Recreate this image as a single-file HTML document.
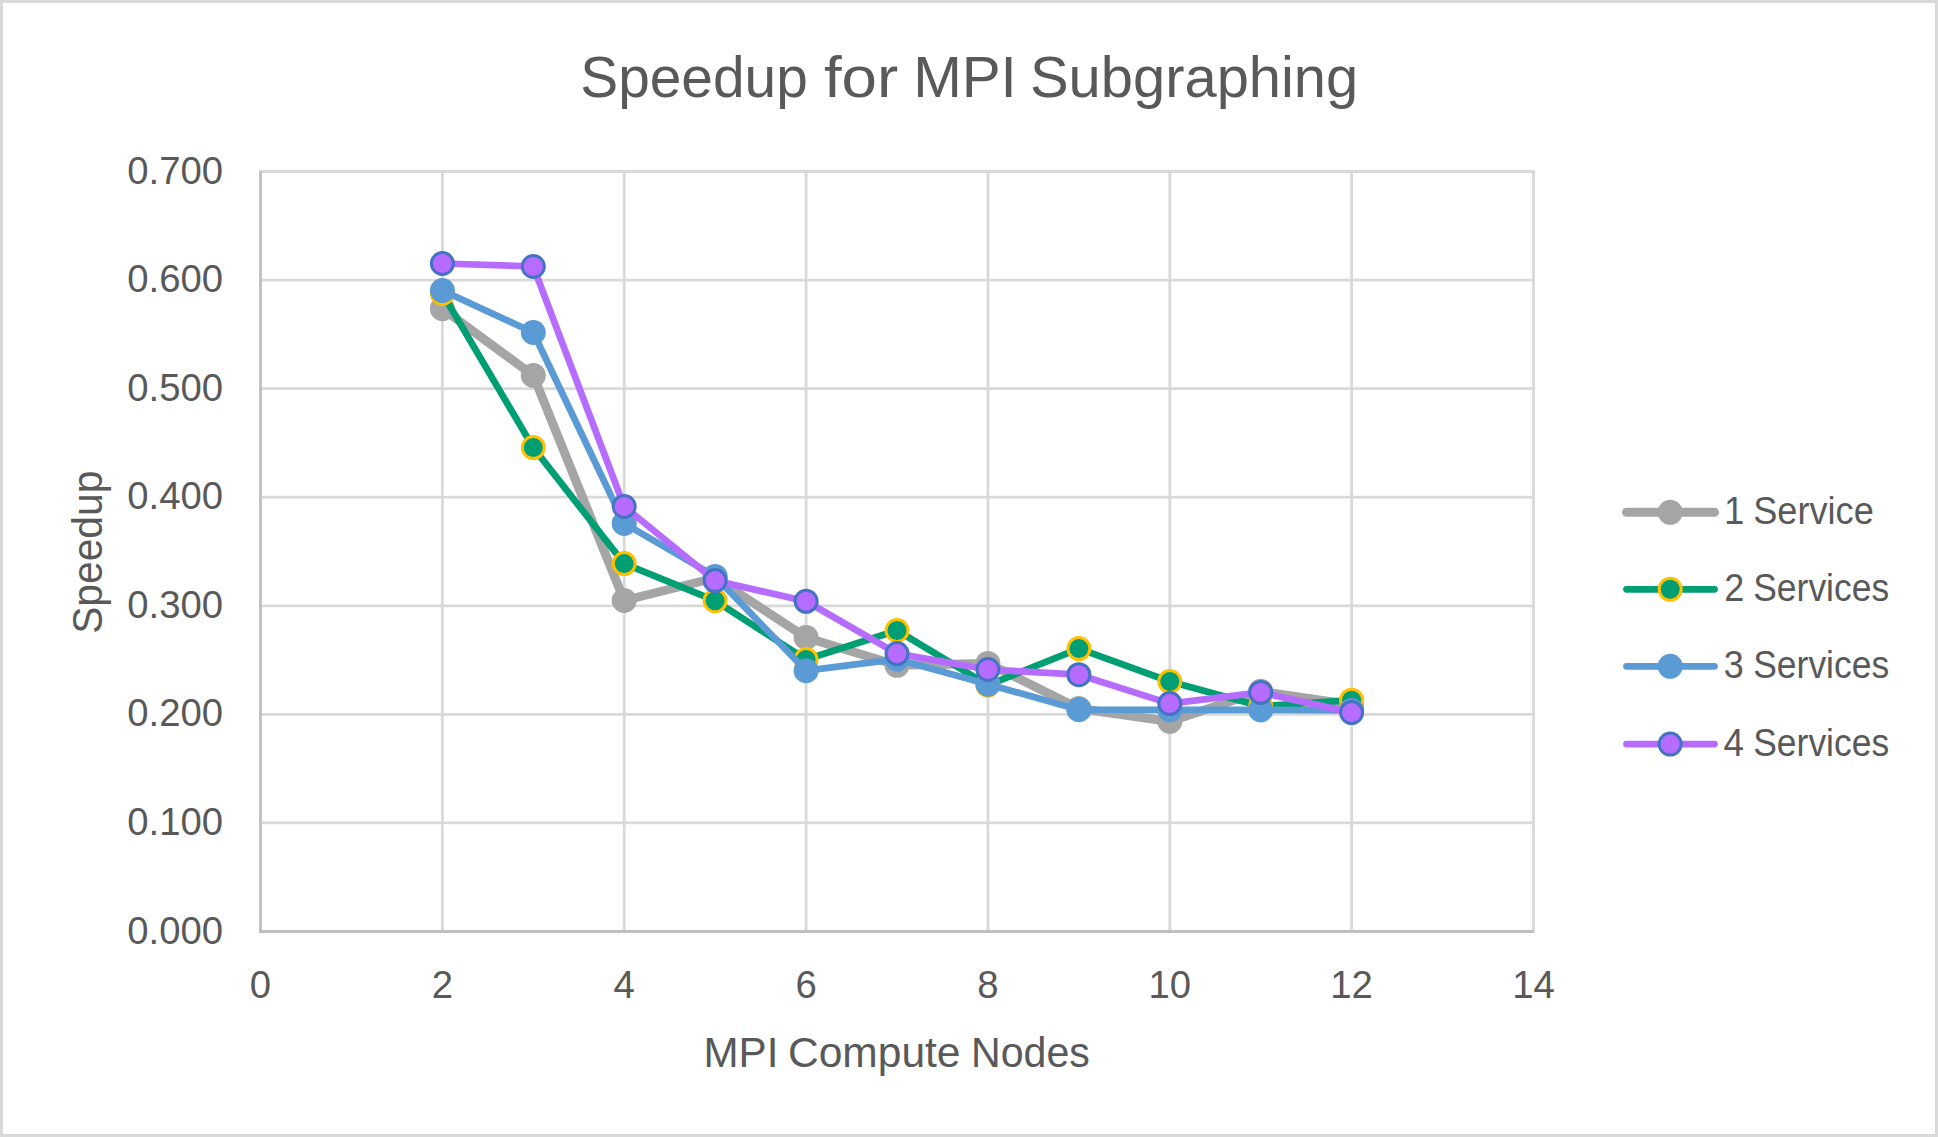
<!DOCTYPE html>
<html lang="en"><head><meta charset="utf-8"><title>Speedup for MPI Subgraphing</title>
<style>
html,body{margin:0;padding:0;background:#fff;}
body{width:1938px;height:1137px;overflow:hidden;font-family:"Liberation Sans",sans-serif;}
svg{display:block;}
</style></head><body>
<svg width="1938" height="1137" viewBox="0 0 1938 1137">
<rect x="0" y="0" width="1938" height="1137" fill="#D9D9D9"/>
<rect x="3" y="3" width="1932" height="1131" fill="#FFFFFF"/>
<path d="M259.1 171.50H1534.9 M259.1 280.07H1534.9 M259.1 388.64H1534.9 M259.1 497.21H1534.9 M259.1 605.79H1534.9 M259.1 714.36H1534.9 M259.1 822.93H1534.9 M442.36 170.1V932.9 M624.21 170.1V932.9 M806.07 170.1V932.9 M987.93 170.1V932.9 M1169.79 170.1V932.9 M1351.64 170.1V932.9 M1533.50 170.1V932.9" stroke="#D9D9D9" stroke-width="2.8" fill="none"/>
<path d="M260.5 171.5V932.9 M259.1 931.5H1533.5" stroke="#BFBFBF" stroke-width="2.8" fill="none"/>
<polyline points="442.4,308.7 533.3,375.4 624.2,600.5 715.1,578.0 806.1,637.5 897.0,665.3 987.9,663.4 1078.9,708.5 1169.8,721.5 1260.7,691.3 1351.6,704.8" fill="none" stroke="#A5A5A5" stroke-width="9" stroke-linejoin="round" stroke-linecap="round"/>
<g fill="#A5A5A5" stroke="#A5A5A5" stroke-width="3">
<circle cx="442.4" cy="308.7" r="11"/>
<circle cx="533.3" cy="375.4" r="11"/>
<circle cx="624.2" cy="600.5" r="11"/>
<circle cx="715.1" cy="578.0" r="11"/>
<circle cx="806.1" cy="637.5" r="11"/>
<circle cx="897.0" cy="665.3" r="11"/>
<circle cx="987.9" cy="663.4" r="11"/>
<circle cx="1078.9" cy="708.5" r="11"/>
<circle cx="1169.8" cy="721.5" r="11"/>
<circle cx="1260.7" cy="691.3" r="11"/>
<circle cx="1351.6" cy="704.8" r="11"/>
</g>
<polyline points="442.4,293.5 533.3,447.6 624.2,563.6 715.1,600.7 806.1,659.5 897.0,630.5 987.9,685.2 1078.9,648.6 1169.8,681.5 1260.7,706.2 1351.6,700.2" fill="none" stroke="#009E73" stroke-width="6.75" stroke-linejoin="round" stroke-linecap="round"/>
<g fill="#009E73" stroke="#FFC000" stroke-width="3">
<circle cx="442.4" cy="293.5" r="11"/>
<circle cx="533.3" cy="447.6" r="11"/>
<circle cx="624.2" cy="563.6" r="11"/>
<circle cx="715.1" cy="600.7" r="11"/>
<circle cx="806.1" cy="659.5" r="11"/>
<circle cx="897.0" cy="630.5" r="11"/>
<circle cx="987.9" cy="685.2" r="11"/>
<circle cx="1078.9" cy="648.6" r="11"/>
<circle cx="1169.8" cy="681.5" r="11"/>
<circle cx="1260.7" cy="706.2" r="11"/>
<circle cx="1351.6" cy="700.2" r="11"/>
</g>
<polyline points="442.4,290.5 533.3,332.5 624.2,523.4 715.1,576.4 806.1,670.7 897.0,659.2 987.9,684.2 1078.9,709.7 1169.8,709.9 1260.7,709.9 1351.6,710.5" fill="none" stroke="#5B9BD5" stroke-width="6.75" stroke-linejoin="round" stroke-linecap="round"/>
<g fill="#5B9BD5" stroke="#5B9BD5" stroke-width="3">
<circle cx="442.4" cy="290.5" r="11"/>
<circle cx="533.3" cy="332.5" r="11"/>
<circle cx="624.2" cy="523.4" r="11"/>
<circle cx="715.1" cy="576.4" r="11"/>
<circle cx="806.1" cy="670.7" r="11"/>
<circle cx="897.0" cy="659.2" r="11"/>
<circle cx="987.9" cy="684.2" r="11"/>
<circle cx="1078.9" cy="709.7" r="11"/>
<circle cx="1169.8" cy="709.9" r="11"/>
<circle cx="1260.7" cy="709.9" r="11"/>
<circle cx="1351.6" cy="710.5" r="11"/>
</g>
<polyline points="442.4,263.5 533.3,266.5 624.2,506.5 715.1,580.6 806.1,601.3 897.0,653.6 987.9,669.5 1078.9,674.7 1169.8,703.6 1260.7,692.4 1351.6,712.6" fill="none" stroke="#B66DFF" stroke-width="6.75" stroke-linejoin="round" stroke-linecap="round"/>
<g fill="#B66DFF" stroke="#4472C4" stroke-width="3">
<circle cx="442.4" cy="263.5" r="11"/>
<circle cx="533.3" cy="266.5" r="11"/>
<circle cx="624.2" cy="506.5" r="11"/>
<circle cx="715.1" cy="580.6" r="11"/>
<circle cx="806.1" cy="601.3" r="11"/>
<circle cx="897.0" cy="653.6" r="11"/>
<circle cx="987.9" cy="669.5" r="11"/>
<circle cx="1078.9" cy="674.7" r="11"/>
<circle cx="1169.8" cy="703.6" r="11"/>
<circle cx="1260.7" cy="692.4" r="11"/>
<circle cx="1351.6" cy="712.6" r="11"/>
</g>
<line x1="1626.5" y1="512.3" x2="1714.5" y2="512.3" stroke="#A5A5A5" stroke-width="9" stroke-linecap="round"/>
<circle cx="1670.2" cy="512.3" r="11" fill="#A5A5A5" stroke="#A5A5A5" stroke-width="3"/>
<g font-family="Liberation Sans, sans-serif" font-size="38.3" fill="#595959" xml:space="preserve">
<text y="524.0" font-size="38.3"><tspan x="1723.96" textLength="20.31" lengthAdjust="spacingAndGlyphs">1</tspan> <tspan x="1753.17" textLength="120.64" lengthAdjust="spacingAndGlyphs">Service</tspan></text>
</g>
<line x1="1626.5" y1="589.3" x2="1714.5" y2="589.3" stroke="#009E73" stroke-width="6.75" stroke-linecap="round"/>
<circle cx="1670.2" cy="589.3" r="11" fill="#009E73" stroke="#FFC000" stroke-width="3"/>
<g font-family="Liberation Sans, sans-serif" font-size="38.3" fill="#595959" xml:space="preserve">
<text y="601.0" font-size="38.3"><tspan x="1724.20" textLength="20.05" lengthAdjust="spacingAndGlyphs">2</tspan> <tspan x="1753.20" textLength="136.02" lengthAdjust="spacingAndGlyphs">Services</tspan></text>
</g>
<line x1="1626.5" y1="666.3" x2="1714.5" y2="666.3" stroke="#5B9BD5" stroke-width="6.75" stroke-linecap="round"/>
<circle cx="1670.2" cy="666.3" r="11" fill="#5B9BD5" stroke="#5B9BD5" stroke-width="3"/>
<g font-family="Liberation Sans, sans-serif" font-size="38.3" fill="#595959" xml:space="preserve">
<text y="678.0" font-size="38.3"><tspan x="1723.76" textLength="20.00" lengthAdjust="spacingAndGlyphs">3</tspan> <tspan x="1753.20" textLength="136.02" lengthAdjust="spacingAndGlyphs">Services</tspan></text>
</g>
<line x1="1626.5" y1="744.1" x2="1714.5" y2="744.1" stroke="#B66DFF" stroke-width="6.75" stroke-linecap="round"/>
<circle cx="1670.2" cy="744.1" r="11" fill="#B66DFF" stroke="#4472C4" stroke-width="3"/>
<g font-family="Liberation Sans, sans-serif" font-size="38.3" fill="#595959" xml:space="preserve">
<text y="755.8" font-size="38.3"><tspan x="1723.58" textLength="20.47" lengthAdjust="spacingAndGlyphs">4</tspan> <tspan x="1753.20" textLength="136.02" lengthAdjust="spacingAndGlyphs">Services</tspan></text>
</g>
<g font-family="Liberation Sans, sans-serif" font-size="38.3" fill="#595959" text-anchor="end">
<text x="223.1" y="183.55">0.700</text>
<text x="223.1" y="292.12">0.600</text>
<text x="223.1" y="400.69">0.500</text>
<text x="223.1" y="509.26">0.400</text>
<text x="223.1" y="617.84">0.300</text>
<text x="223.1" y="726.41">0.200</text>
<text x="223.1" y="834.98">0.100</text>
<text x="223.1" y="943.55">0.000</text>
</g>
<g font-family="Liberation Sans, sans-serif" font-size="38.3" fill="#595959" text-anchor="middle">
<text x="260.5" y="998.2">0</text>
<text x="442.4" y="998.2">2</text>
<text x="624.2" y="998.2">4</text>
<text x="806.1" y="998.2">6</text>
<text x="987.9" y="998.2">8</text>
<text x="1169.8" y="998.2">10</text>
<text x="1351.6" y="998.2">12</text>
<text x="1533.5" y="998.2">14</text>
</g>
<g font-family="Liberation Sans, sans-serif" fill="#595959">
<text y="96.6" font-size="58"><tspan x="580.24" textLength="227.55" lengthAdjust="spacingAndGlyphs">Speedup</tspan> <tspan x="823.95" textLength="74.24" lengthAdjust="spacingAndGlyphs">for</tspan> <tspan x="913.13" textLength="103.68" lengthAdjust="spacingAndGlyphs">MPI</tspan> <tspan x="1030.00" textLength="328.25" lengthAdjust="spacingAndGlyphs">Subgraphing</tspan></text>
<text y="1066.5" font-size="43"><tspan x="703.53" textLength="74.88" lengthAdjust="spacingAndGlyphs">MPI</tspan> <tspan x="787.97" textLength="172.54" lengthAdjust="spacingAndGlyphs">Compute</tspan> <tspan x="971.01" textLength="118.85" lengthAdjust="spacingAndGlyphs">Nodes</tspan></text>
<text y="0.0" font-size="43" transform="translate(102.4 632) rotate(-90)"><tspan x="-1.83" textLength="163.12" lengthAdjust="spacingAndGlyphs">Speedup</tspan></text>
</g>
</svg>
</body></html>
